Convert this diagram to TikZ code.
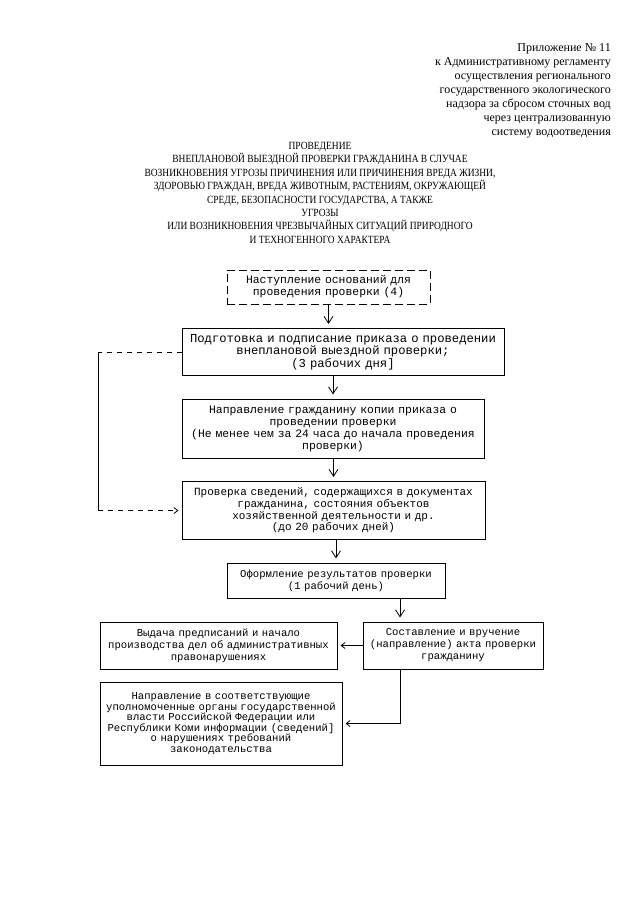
\documentclass[tikz,border=0pt]{standalone}
\usepackage{fontspec}
\setmainfont{Liberation Serif}
\setmonofont{Liberation Mono}
\newfontfamily\zagfont[FakeStretch=0.86]{Liberation Serif}
\usetikzlibrary{arrows.meta}

\begin{document}
\begin{tikzpicture}[x=1pt, y=-1pt]
\tikzstyle{every node} = [font=\fontsize{10.6}{12}\selectfont\ttfamily, align=center, inner sep=0pt]
\tikzstyle{blok} = [draw, line width=1pt]
\tikzstyle{vstrel} = [line width=0.8pt, -{Straight Barb[length=7pt, width=9pt]}, shorten >=4pt]
\tikzstyle{lstrel} = [line width=0.8pt, -{Straight Barb[length=4pt, width=6pt]}, shorten >=3pt]
\useasboundingbox (0,0) rectangle (640,905);

\node[anchor=north east, align=right, font=\fontsize{12}{14}\selectfont\rmfamily] (pril) at (611,43)
  {Приложение № 11\\к Административному регламенту\\осуществления регионального\\государственного экологического\\надзора за сбросом сточных вод\\через централизованную\\систему водоотведения};
\node[anchor=north, font=\fontsize{11}{13.4}\selectfont\zagfont] (zagl) at (320,142)
  {ПРОВЕДЕНИЕ\\ВНЕПЛАНОВОЙ ВЫЕЗДНОЙ ПРОВЕРКИ ГРАЖДАНИНА В СЛУЧАЕ\\ВОЗНИКНОВЕНИЯ УГРОЗЫ ПРИЧИНЕНИЯ ИЛИ ПРИЧИНЕНИЯ ВРЕДА ЖИЗНИ,\\ЗДОРОВЬЮ ГРАЖДАН, ВРЕДА ЖИВОТНЫМ, РАСТЕНИЯМ, ОКРУЖАЮЩЕЙ\\СРЕДЕ, БЕЗОПАСНОСТИ ГОСУДАРСТВА, А ТАКЖЕ\\УГРОЗЫ\\ИЛИ ВОЗНИКНОВЕНИЯ ЧРЕЗВЫЧАЙНЫХ СИТУАЦИЙ ПРИРОДНОГО\\И ТЕХНОГЕННОГО ХАРАКТЕРА};

\node[blok, dash pattern=on 8pt off 4pt, minimum width=203, minimum height=34, text width=197, font=\fontsize{11.4}{12}\selectfont\ttfamily] (osnov) at (328.5,287)
  {Наступление оснований для\\проведения проверки (4)};
\node[blok, minimum width=322, minimum height=47, text width=316, font=\fontsize{12.2}{12.5}\selectfont\ttfamily] (prikaz) at (343,352)
  {Подготовка и подписание приказа о проведении\\внеплановой выездной проверки;\\(3 рабочих дня]};
\node[blok, minimum width=302, minimum height=59, text width=296, font=\fontsize{11.4}{12}\selectfont\ttfamily] (napr) at (333,428.5)
  {Направление гражданину копии приказа о\\проведении проверки\\(Не менее чем за 24 часа до начала проведения\\проверки)};
\node[blok, minimum width=303, minimum height=58, text width=297, font=\fontsize{11}{11.8}\selectfont\ttfamily] (sved) at (333.5,510.5)
  {Проверка сведений, содержащихся в документах\\гражданина, состояния объектов\\хозяйственной деятельности и др.\\(до 20 рабочих дней)};
\node[blok, minimum width=218, minimum height=35, text width=212] (oform) at (336,580.5)
  {Оформление результатов проверки\\(1 рабочий день)};
\node[blok, minimum width=237, minimum height=47, text width=233] (vydacha) at (218.5,645.5)
  {Выдача предписаний и начало\\производства дел об административных\\правонарушениях};
\node[blok, minimum width=180, minimum height=47, text width=176] (akt) at (453,645.5)
  {Составление и вручение\\(направление) акта проверки\\гражданину};
\node[blok, minimum width=242, minimum height=83, text width=238, font=\fontsize{10.6}{10.5}\selectfont\ttfamily] (zakon) at (221,723.5)
  {Направление в соответствующие\\уполномоченные органы государственной\\власти Российской Федерации или\\Республики Коми информации (сведений]\\о нарушениях требований\\законодательства};

\draw[vstrel] (osnov.south) -- (osnov.south |- prikaz.north);
\foreach \from/\to in {prikaz/napr, napr/sved, sved/oform}
\draw[vstrel] (\to.north |- \from.south) -- (\to.north);
\draw[vstrel] ([xshift=64]oform.south) -- ([xshift=64]oform.south |- akt.north);

\coordinate (lev) at (98,0);
\draw[line width=0.8pt, dash pattern=on 5pt off 5pt] (prikaz.west) -- (prikaz.west -| lev);
\draw[line width=0.8pt] (prikaz.west -| lev) -- (sved.west -| lev);
\draw[lstrel, dash pattern=on 5pt off 5pt] (sved.west -| lev) -- (sved.west);

\draw[lstrel] (akt.west) -- (vydacha.east);
\draw[lstrel] ([xshift=38]akt.south west) |- (zakon.east);
\end{tikzpicture}
\end{document}
